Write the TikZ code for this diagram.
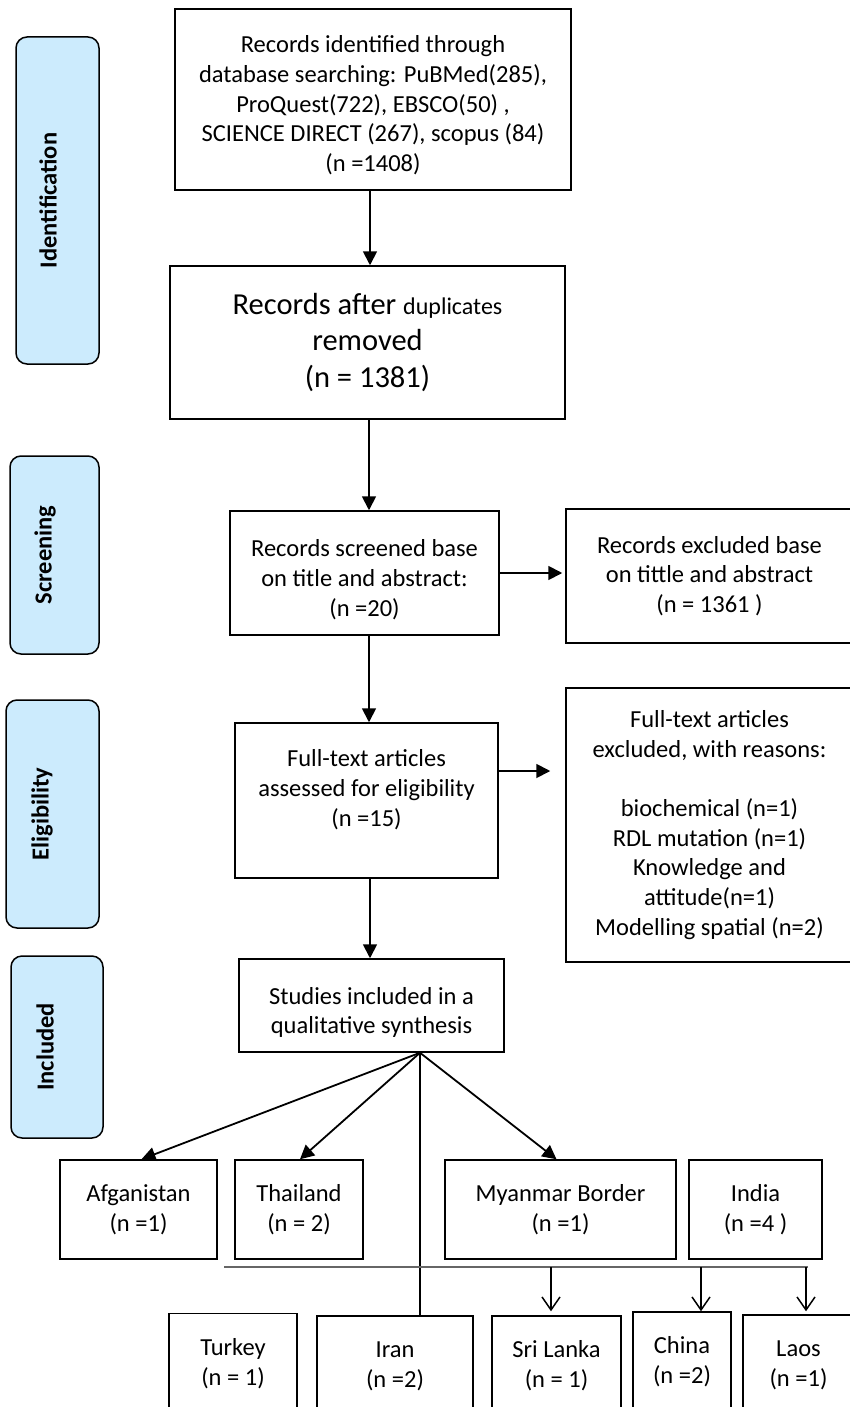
\documentclass[tikz,border=0pt]{standalone}
\usepackage{fontspec}
\setmainfont{Carlito}
\usepackage{tikz}
\usetikzlibrary{arrows.meta}
\usepackage{xcolor}
\definecolor{phaseblue}{RGB}{204,235,253}
\definecolor{busgray}  {RGB}{102,102,102}

\begin{document}
\begin{tikzpicture}[
    x=1pt, y=-1pt,
    module/.style={draw, rectangle, line width=1.5pt, inner sep=0pt, align=center, font=\fontsize{24.5}{29.7}\selectfont},
    phase/.style={draw, rectangle, rounded corners=11pt, line width=1.5pt, fill=phaseblue},
    phasetext/.style={rotate=90, font=\fontsize{24.5}{28}\selectfont\bfseries},
    arrow/.style={-{Triangle[length=14pt, width=14pt]}, line width=1.8pt},
    tap/.style={-{Straight Barb[length=13pt, width=18pt]}, line width=1.5pt}
]
    \useasboundingbox (0,0) rectangle (850,1407);
    \clip (0,0) rectangle (850,1407);

    % phase labels on the left
    \node[phase, minimum width=83, minimum height=327] (idphase) at (57.5,200.5) {};
    \node[phasetext] (idtext) at (48,200.5) {Identification};
    \node[phase, minimum width=89, minimum height=198] (scphase) at (54.5,555) {};
    \node[phasetext] (sctext) at (45,555) {Screening};
    \node[phase, minimum width=93, minimum height=228] (elphase) at (52.5,814) {};
    \node[phasetext] (eltext) at (42,814) {Eligibility};
    \node[phase, minimum width=92, minimum height=182] (inphase) at (57,1047) {};
    \node[phasetext] (intext) at (45,1047) {Included};

    % main column
    \node[module, minimum width=396, minimum height=181] (identified) at (373,99.5)
        {Records identified through\\database searching: PuBMed(285),\\ProQuest(722), EBSCO(50) ,\\SCIENCE DIRECT (267), scopus (84)\\(n =1408)\\[-37.7pt]};
    \node[module, minimum width=395, minimum height=153, font=\fontsize{30.5}{36.5}\selectfont] (dedup) at (367.5,342.5)
        {Records after {\fontsize{24}{29.7}\selectfont duplicates}\\removed\\(n = 1381)};
    \node[module, minimum width=269, minimum height=124] (screened) at (364.5,573)
        {Records screened base\\on title and abstract:\\(n =20)\\[-39.7pt]};
    \node[module, minimum width=287, minimum height=134] (excluded) at (709.5,576)
        {Records excluded base\\on tittle and abstract\\(n = 1361 )};
    \node[module, minimum width=263, minimum height=155] (fulltext) at (366.5,800.5)
        {Full-text articles\\assessed for eligibility\\(n =15)\\[-5pt]};
    \node[module, minimum width=287, minimum height=274] (reasons) at (709.5,825)
        {Full-text articles\\excluded, with reasons:\\[29.7pt]biochemical (n=1)\\RDL mutation (n=1)\\Knowledge and\\attitude(n=1)\\Modelling spatial (n=2)};
    \node[module, minimum width=265, minimum height=93] (studies) at (371.5,1005.5)
        {Studies included in a\\qualitative synthesis\\[-39.7pt]};

    % countries, first row
    \node[module, minimum width=157, minimum height=99] (afg) at (138.5,1209.5) {Afganistan\\(n =1)};
    \node[module, minimum width=128, minimum height=99] (thai) at (299,1209.5) {Thailand\\(n = 2)};
    \node[module, minimum width=231, minimum height=99] (myan) at (560.5,1209.5) {Myanmar Border\\(n =1)};
    \node[module, minimum width=133, minimum height=99] (india) at (755.5,1209.5) {India\\(n =4 )};

    % countries, second row
    \node[module, minimum width=128, minimum height=100] (turkey) at (233,1363.5) {Turkey\\(n = 1)};
    \node[module, minimum width=156, minimum height=100] (iran) at (395,1366) {Iran\\(n =2)};
    \node[module, minimum width=129, minimum height=100] (srilanka) at (556.5,1366) {Sri Lanka\\(n = 1)};
    \node[module, minimum width=98, minimum height=100] (china) at (682,1362) {China\\(n =2)};
    \node[module, minimum width=111, minimum height=100] (laos) at (798.5,1365) {Laos\\(n =1)};

    % flow
    \draw[arrow] ([xshift=-3pt]identified.south) -- ([xshift=2.5pt]dedup.north);
    \draw[arrow] ([xshift=1.5pt]dedup.south) -- ([xshift=4.5pt]screened.north);
    \draw[arrow] (screened.east) -- ([xshift=-3pt]screened.east -| excluded.west);
    \draw[arrow] ([xshift=4.5pt]screened.south) -- ([xshift=2.5pt]fulltext.north);
    \draw[arrow, shorten >=15pt] ([yshift=29.5pt]fulltext.east) -- ([yshift=29.5pt]fulltext.east -| reasons.west);
    \draw[arrow] ([xshift=3.5pt]fulltext.south) -- ([xshift=-1.5pt]studies.north);

    \coordinate (fan) at ([xshift=48.5pt]studies.south);
    \draw[arrow] (fan) -- ([xshift=3pt]afg.north);
    \draw[arrow] (fan) -- ([xshift=1pt]thai.north);
    \draw[arrow] (fan) -- ([xshift=-4pt]myan.north);
    \draw[line width=1.8pt] (fan) -- (fan |- iran.north);

    % bus line to the second row
    \coordinate (busL) at (224,1267);
    \coordinate (busR) at (808,1267);
    \draw[busgray, line width=1.5pt] (busL) -- (busR);
    \coordinate (tapS) at (551,1267);
    \coordinate (tapC) at (701,1267);
    \coordinate (tapL) at (806,1267);
    \draw[tap] (tapS) -- ([yshift=4pt]tapS |- srilanka.north);
    \draw[tap] (tapC) -- (tapC |- china.north);
    \draw[tap] (tapL) -- ([yshift=3pt]tapL |- laos.north);
\end{tikzpicture}
\end{document}
